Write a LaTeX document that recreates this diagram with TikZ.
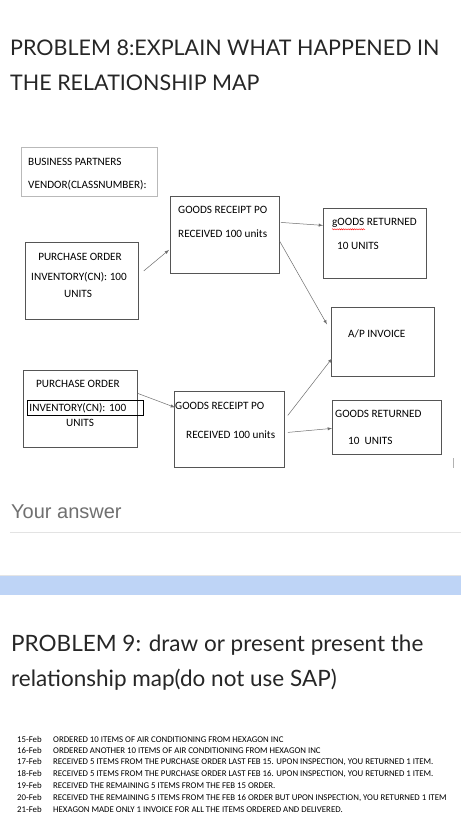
\documentclass[tikz,border=0pt]{standalone}
\usepackage{fontspec}
\setmainfont{Carlito}
\newfontfamily\headfont{Lato}
\newfontfamily\formfont{Liberation Sans}
\usetikzlibrary{positioning,decorations.pathmorphing}
\definecolor{boxcolor}{RGB}{85,85,85}
\definecolor{linkcolor}{RGB}{110,110,110}
\definecolor{bandcolor}{RGB}{190,212,246}
\definecolor{answercolor}{RGB}{112,112,112}

\begin{document}
\begin{tikzpicture}[
    x=1pt, y=-1pt,
    >=latex,
    box/.style={rectangle, draw=boxcolor, line width=0.8pt, anchor=north west, inner sep=0pt},
    boxtext/.style={anchor=west, inner sep=0pt, font=\fontsize{11.2}{13}\selectfont},
    heading/.style={anchor=west, inner sep=0pt, text=black!85, font=\headfont\fontsize{21.5}{25}\selectfont},
    entry/.style={anchor=west, inner sep=0pt, font=\fontsize{8.8}{10}\selectfont},
    link/.style={->, draw=linkcolor, line width=0.5pt}
    ]

\useasboundingbox (0,0) rectangle (461,825);
\fill[white] (0,0) rectangle (461,825);

% problem 8
\node[heading] (title1) at (10,48) {PROBLEM 8:EXPLAIN WHAT HAPPENED IN};
\node[heading] (title2) at (10,83) {THE RELATIONSHIP MAP};

% boxes
\node[box, draw=gray!55, minimum width=136, minimum height=49] (partners) at (21,147) {};
\node[box, minimum width=113, minimum height=77] (order1) at (25,242) {};
\node[box, minimum width=109, minimum height=77] (receipt1) at (170,196) {};
\node[box, minimum width=103, minimum height=70] (return1) at (323,208) {};
\node[box, minimum width=103, minimum height=69] (invoice) at (331,307) {};
\node[box, minimum width=114, minimum height=77] (order2) at (23,370) {};
\node[box, minimum width=110, minimum height=76] (receipt2) at (174,391) {};
\node[box, minimum width=109, minimum height=54] (return2) at (332,400) {};

% box texts
\node[boxtext] (partnerstitle) at (28,162) {BUSINESS PARTNERS};
\node[boxtext] (vendor) at (28,185) {VENDOR(CLASSNUMBER):};

\node[boxtext, anchor=center] (order1title) at (80,257) {PURCHASE ORDER};
\node[boxtext, anchor=center] (order1qty) at (79,277) {INVENTORY(CN): 100};
\node[boxtext, anchor=center] (order1units) at (78,294) {UNITS};

\node[boxtext] (receipt1title) at (178,210) {GOODS RECEIPT PO};
\node[boxtext] (receipt1qty) at (178,234) {RECEIVED 100 units};

\node[boxtext] (return1title) at (332,223) {gOODS RETURNED};
\node[boxtext] (return1qty) at (337,246) {10 UNITS};

\node[boxtext] (invoicetitle) at (348,334) {A/P INVOICE};

\node[boxtext] (order2title) at (36,384) {PURCHASE ORDER};
\node[boxtext, draw=black, line width=0.9pt, text width=112, inner xsep=2, minimum height=15] (order2qty) at (27,408) {INVENTORY(CN): 100};
\node[boxtext, anchor=center] (order2units) at (80,423) {UNITS};

\node[boxtext] (receipt2title) at (175,406) {GOODS RECEIPT PO};
\node[boxtext] (receipt2qty) at (186,435) {RECEIVED 100 units};

\node[boxtext] (return2title) at (335,414) {GOODS RETURNED};
\node[boxtext] (return2qty) at (348,441) {10~~UNITS};

% spell check mark
\draw[red, line width=0.4pt, decorate, decoration={snake, amplitude=0.6pt, segment length=2.2pt}]
    ([shift={(0,1.5)}]return1title.south west) -- ++(33,0);

% connectors
\draw[link] ([shift={(5,-10)}]order1.east) -- ([shift={(-1,15)}]receipt1.west);
\draw[link] ([shift={(1,-12.5)}]receipt1.east) -- ([shift={(0,-18)}]return1.west);
\draw[link] ([shift={(0,6.5)}]receipt1.east) -- ([shift={(-4,-17.5)}]invoice.west);
\draw[link] ([shift={(3,-14)}]receipt2.east) -- ([shift={(1,16.5)}]invoice.west);
\draw[link] ([shift={(0,-15.5)}]order2.east) -- ([shift={(1,-22)}]receipt2.west);
\draw[link] ([shift={(3,3)}]receipt2.east) -- ([shift={(0,1)}]return2.west);

\draw[gray!60, line width=0.8pt] (453,458) -- (453,468);

% answer field
\node[anchor=west, inner sep=0pt, text=answercolor, font=\formfont\fontsize{20}{24}\selectfont] (youranswer) at (11,512) {Your answer};
\draw[gray!22, line width=1pt] (10,532) -- (461,532);

% section band
\draw[gray!20, line width=1pt] (0,575) -- (461,575);
\fill[bandcolor] (0,576) rectangle (461,595);

% problem 9
\node[heading, font=\headfont\fontsize{22.5}{26}\selectfont] (title3) at (11,645) {PROBLEM 9: draw or present present the};
\node[heading, font=\headfont\fontsize{22.5}{26}\selectfont] (title4) at (11,680) {relationship map(do not use SAP)};

% dated entries
\node[entry] (feb15) at (17,739) {\makebox[36pt][l]{15-Feb}ORDERED 10 ITEMS OF AIR CONDITIONING FROM HEXAGON INC};
\node[entry] (feb16) at (17,750.7) {\makebox[36pt][l]{16-Feb}ORDERED ANOTHER 10 ITEMS OF AIR CONDITIONING FROM HEXAGON INC};
\node[entry] (feb17) at (17,762.4) {\makebox[36pt][l]{17-Feb}RECEIVED 5 ITEMS FROM THE PURCHASE ORDER LAST FEB 15. UPON INSPECTION, YOU RETURNED 1 ITEM.};
\node[entry] (feb18) at (17,774.1) {\makebox[36pt][l]{18-Feb}RECEIVED 5 ITEMS FROM THE PURCHASE ORDER LAST FEB 16. UPON INSPECTION, YOU RETURNED 1 ITEM.};
\node[entry] (feb19) at (17,785.8) {\makebox[36pt][l]{19-Feb}RECEIVED THE REMAINING 5 ITEMS FROM THE FEB 15 ORDER.};
\node[entry] (feb20) at (17,797.5) {\makebox[36pt][l]{20-Feb}RECEIVED THE REMAINING 5 ITEMS FROM THE FEB 16 ORDER BUT UPON INSPECTION, YOU RETURNED 1 ITEM};
\node[entry] (feb21) at (17,809.2) {\makebox[36pt][l]{21-Feb}HEXAGON MADE ONLY 1 INVOICE FOR ALL THE ITEMS ORDERED AND DELIVERED.};

\end{tikzpicture}
\end{document}
